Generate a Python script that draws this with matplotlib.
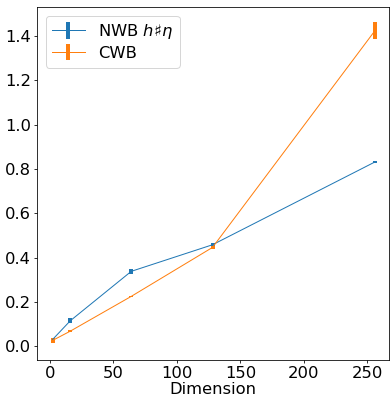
import numpy as np
import matplotlib
matplotlib.use('Agg')
from matplotlib import pyplot as plt

dims = [2, 16, 64, 128, 256]
nwb_mean = [0.030, 0.115, 0.338, 0.458, 0.832]
nwb_err = [0.008, 0.012, 0.010, 0.006, 0.003]
cwb_mean = [0.026, 0.068, 0.225, 0.446, 1.425]
cwb_err = [0.010, 0.003, 0.003, 0.006, 0.040]

DPI = 72
plt.rcParams['font.size'] = 16.4
fig = plt.figure(figsize=(390 / DPI, 396 / DPI), dpi=DPI)
ax = fig.add_axes([37.3 / 390, 1 - 359.5 / 396, (389 - 37.3) / 390, (359.5 - 7.3) / 396])

ax.errorbar(dims, nwb_mean, yerr=nwb_err, color='tab:blue', lw=1, elinewidth=4, label=r'NWB $h\sharp\eta$')
ax.errorbar(dims, cwb_mean, yerr=cwb_err, color='tab:orange', lw=1, elinewidth=4, label='CWB')

ax.set_xlabel('Dimension', labelpad=1)
ax.set_xlim(-10, 267)
ax.set_ylim(-0.06, 1.53)
ax.set_xticks([0, 50, 100, 150, 200, 250])
ax.tick_params(length=3.3, pad=3)
ax.legend(loc='upper left', labelspacing=0.3)

fig.savefig('out.png', dpi=DPI)
